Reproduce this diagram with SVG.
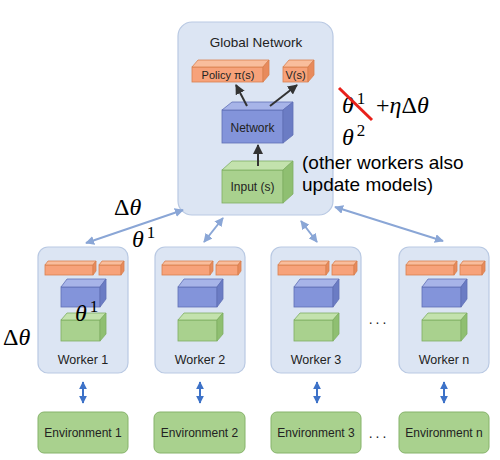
<svg xmlns="http://www.w3.org/2000/svg" xmlns:xlink="http://www.w3.org/1999/xlink" width="500" height="460" viewBox="0 0 500 460">
<defs>
<style>
.panel{fill:#dce5f3;stroke:#b9c9e3;stroke-width:1.2}
.of{fill:#f7a27a;stroke:#d9804f;stroke-width:0.8}
.ot{fill:#f9bd9c;stroke:#d9804f;stroke-width:0.8}
.os{fill:#e88a5c;stroke:#d9804f;stroke-width:0.8}
.bf{fill:#8394da;stroke:#5f6fb5;stroke-width:0.8}
.bt{fill:#a7b4e8;stroke:#5f6fb5;stroke-width:0.8}
.bs{fill:#6b7cc4;stroke:#5f6fb5;stroke-width:0.8}
.gf{fill:#a9d18e;stroke:#7fae62;stroke-width:0.8}
.gt{fill:#c3e2ad;stroke:#7fae62;stroke-width:0.8}
.gs{fill:#8fbf71;stroke:#7fae62;stroke-width:0.8}
.env{fill:#a9d18e;stroke:#86b36a;stroke-width:1}
.lbl{font-family:"Liberation Sans",Arial,sans-serif;fill:#222;text-anchor:middle}
.note{font-family:"Liberation Sans",Arial,sans-serif;font-size:19px;fill:#000}
.math{font-family:"Liberation Serif","DejaVu Serif",serif;fill:#000}
.it{font-style:italic}
.dark{stroke:#333;stroke-width:2;fill:none}
.conn{stroke:#8aa6d6;stroke-width:2;fill:none}
.vconn{stroke:#3d72c8;stroke-width:2;fill:none}
</style>
<marker id="ad" viewBox="0 0 10 10" refX="9" refY="5" markerWidth="5" markerHeight="5" orient="auto-start-reverse"><path d="M0,0 L10,5 L0,10 Z" fill="#333"/></marker>
<marker id="ac" viewBox="0 0 10 10" refX="9" refY="5" markerWidth="4.5" markerHeight="4.5" orient="auto-start-reverse"><path d="M0,0 L10,5 L0,10 Z" fill="#8aa6d6"/></marker>
<marker id="av" viewBox="0 0 10 10" refX="9" refY="5" markerWidth="4" markerHeight="4" orient="auto-start-reverse"><path d="M0,0 L10,5 L0,10 Z" fill="#3d72c8"/></marker>
<g id="stack">
<rect class="of" x="7" y="265" width="48" height="10"/>
<path class="ot" d="M7,265 L10,261 L58,261 L55,265Z"/>
<path class="os" d="M55,265 L58,261 L58,271 L55,275Z"/>
<rect class="of" x="61" y="265" width="22" height="10"/>
<path class="ot" d="M61,265 L64,261 L86,261 L83,265Z"/>
<path class="os" d="M83,265 L86,261 L86,271 L83,275Z"/>
<rect class="bf" x="23" y="287" width="39" height="20"/>
<path class="bt" d="M23,287 L29,279 L68,279 L62,287Z"/>
<path class="bs" d="M62,287 L68,279 L68,299 L62,307Z"/>
<rect class="gf" x="23" y="320" width="39" height="21"/>
<path class="gt" d="M23,320 L29,313 L68,313 L62,320Z"/>
<path class="gs" d="M62,320 L68,313 L68,334 L62,341Z"/>
</g>
</defs>
<rect width="500" height="460" fill="#fff"/>

<g id="global">
<rect class="panel" x="178" y="22" width="155" height="193" rx="14"/>
<text class="lbl" x="256" y="47" font-size="13.5">Global Network</text>
<g id="policy">
<rect class="of" x="192" y="67" width="71" height="15"/>
<path class="ot" d="M192,67 L198,60 L269,60 L263,67Z"/>
<path class="os" d="M263,67 L269,60 L269,75 L263,82Z"/>
<text class="lbl" x="228" y="79" font-size="11">Policy π(s)</text>
</g>
<g id="value">
<rect class="of" x="283" y="67" width="25" height="15"/>
<path class="ot" d="M283,67 L289,60 L314,60 L308,67Z"/>
<path class="os" d="M308,67 L314,60 L314,75 L308,82Z"/>
<text class="lbl" x="295.5" y="79" font-size="11">V(s)</text>
</g>
<g id="network">
<rect class="bf" x="222" y="110" width="61" height="33"/>
<path class="bt" d="M222,110 L232,102 L293,102 L283,110Z"/>
<path class="bs" d="M283,110 L293,102 L293,135 L283,143Z"/>
<text class="lbl" x="252.5" y="132" font-size="12">Network</text>
</g>
<g id="input">
<rect class="gf" x="222" y="170" width="61" height="33"/>
<path class="gt" d="M222,170 L232,161 L293,161 L283,170Z"/>
<path class="gs" d="M283,170 L293,161 L293,194 L283,203Z"/>
<text class="lbl" x="252.5" y="191" font-size="12">Input (s)</text>
</g>
</g>

<g id="worker1"><rect class="panel" x="38" y="247" width="90" height="126" rx="10"/><use xlink:href="#stack" x="38"/><text class="lbl" x="83" y="364" font-size="12.5">Worker 1</text></g>
<g id="worker2"><rect class="panel" x="155" y="247" width="90" height="126" rx="10"/><use xlink:href="#stack" x="155"/><text class="lbl" x="200" y="364" font-size="12.5">Worker 2</text></g>
<g id="worker3"><rect class="panel" x="271" y="247" width="90" height="126" rx="10"/><use xlink:href="#stack" x="271"/><text class="lbl" x="316" y="364" font-size="12.5">Worker 3</text></g>
<g id="workern"><rect class="panel" x="399" y="247" width="90" height="126" rx="10"/><use xlink:href="#stack" x="399"/><text class="lbl" x="444" y="364" font-size="12.5">Worker n</text></g>

<g id="env1"><rect class="env" x="38" y="412" width="90" height="41" rx="6"/><text class="lbl" x="83" y="437" font-size="12">Environment 1</text></g>
<g id="env2"><rect class="env" x="154" y="412" width="91" height="41" rx="6"/><text class="lbl" x="199.5" y="437" font-size="12">Environment 2</text></g>
<g id="env3"><rect class="env" x="271" y="412" width="90" height="41" rx="6"/><text class="lbl" x="316" y="437" font-size="12">Environment 3</text></g>
<g id="envn"><rect class="env" x="399" y="412" width="90" height="41" rx="6"/><text class="lbl" x="444" y="437" font-size="12">Environment n</text></g>

<g id="connectors">
<line class="dark" x1="247" y1="106" x2="236" y2="85" marker-end="url(#ad)"/>
<line class="dark" x1="270" y1="106" x2="297" y2="85" marker-end="url(#ad)"/>
<line class="dark" x1="258" y1="166" x2="258" y2="145" marker-end="url(#ad)"/>
<line class="conn" x1="183" y1="210" x2="86" y2="243" marker-start="url(#ac)" marker-end="url(#ac)"/>
<line class="conn" x1="223" y1="218" x2="204" y2="242" marker-start="url(#ac)" marker-end="url(#ac)"/>
<line class="conn" x1="301" y1="221" x2="317" y2="242" marker-start="url(#ac)" marker-end="url(#ac)"/>
<line class="conn" x1="335" y1="207" x2="443" y2="241" marker-start="url(#ac)" marker-end="url(#ac)"/>
<line class="vconn" x1="83" y1="382" x2="83" y2="403" marker-start="url(#av)" marker-end="url(#av)"/>
<line class="vconn" x1="200" y1="382" x2="200" y2="403" marker-start="url(#av)" marker-end="url(#av)"/>
<line class="vconn" x1="317" y1="382" x2="317" y2="403" marker-start="url(#av)" marker-end="url(#av)"/>
<line class="vconn" x1="444" y1="382" x2="444" y2="403" marker-start="url(#av)" marker-end="url(#av)"/>
</g>

<g id="dots">
<text class="lbl" x="379" y="324" font-size="14" letter-spacing="3">...</text>
<text class="lbl" x="379" y="438" font-size="14" letter-spacing="3">...</text>
</g>

<g id="annotations">
<text class="math" x="342" y="113" font-size="24"><tspan class="it">θ</tspan><tspan font-size="17" dx="3" dy="-9">1</tspan></text>
<line x1="339" y1="88" x2="372" y2="120" stroke="#e8201a" stroke-width="3"/>
<text class="math" x="376" y="113" font-size="24">+<tspan class="it">η</tspan>Δ<tspan class="it">θ</tspan></text>
<text class="math" x="342" y="145" font-size="24"><tspan class="it">θ</tspan><tspan font-size="17" dx="3" dy="-9">2</tspan></text>
<text class="note" x="302" y="169">(other workers also</text>
<text class="note" x="302" y="191">update models)</text>
<text class="math" x="114" y="215" font-size="24">Δ<tspan class="it">θ</tspan></text>
<text class="math" x="132" y="247" font-size="24"><tspan class="it">θ</tspan><tspan font-size="17" dx="3" dy="-9">1</tspan></text>
<text class="math" x="75" y="321" font-size="24"><tspan class="it">θ</tspan><tspan font-size="17" dx="3" dy="-9">1</tspan></text>
<text class="math" x="3" y="345" font-size="24">Δ<tspan class="it">θ</tspan></text>
</g>
</svg>
